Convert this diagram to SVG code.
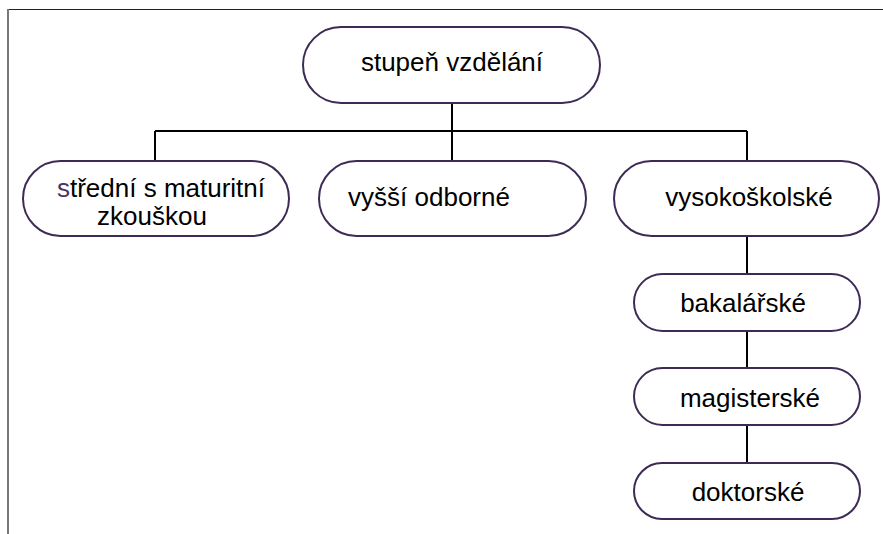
<svg xmlns="http://www.w3.org/2000/svg" width="883" height="534" viewBox="0 0 883 534">
<style>
.node rect{fill:#fff;stroke:#3d2b55;stroke-width:2}
.node text{font-family:"Liberation Sans",Arial,sans-serif;font-size:26px;fill:#000}
.conn{stroke:#000;stroke-width:2;fill:none}
</style>
<rect width="883" height="534" fill="#fff"/>
<g id="frame">
<line x1="8" y1="9.5" x2="883" y2="9.5" stroke="#222" stroke-width="1"/>
<line x1="8" y1="9" x2="8" y2="534" stroke="#777" stroke-width="2"/>
</g>
<g id="connectors" class="conn">
<path d="M452 103V131M155 131H747M155 131V161M452 131V161M747 131V161"/>
<path d="M747 236V274M747 331V368M747 425V463"/>
</g>
<g id="n-root" class="node">
<rect x="303" y="27" width="297" height="76" rx="38"/>
<text x="452" y="71" text-anchor="middle">stupeň vzdělání</text>
</g>
<g id="n-stredni" class="node">
<rect x="23" y="161" width="266" height="75" rx="37.5"/>
<text x="161" y="197" text-anchor="middle"><tspan fill="#4a3266">s</tspan>třední s maturitní</text>
<text x="152" y="225" text-anchor="middle">zkouškou</text>
</g>
<g id="n-vyssi" class="node">
<rect x="319" y="161" width="267" height="75" rx="37.5"/>
<text x="429" y="206" text-anchor="middle">vyšší odborné</text>
</g>
<g id="n-vysoko" class="node">
<rect x="614" y="161" width="265" height="75" rx="37.5"/>
<text x="749" y="206" text-anchor="middle">vysokoškolské</text>
</g>
<g id="n-bak" class="node">
<rect x="634" y="274" width="226" height="57" rx="28.5"/>
<text x="743" y="312" text-anchor="middle">bakalářské</text>
</g>
<g id="n-mag" class="node">
<rect x="634" y="368" width="226" height="57" rx="28.5"/>
<text x="750" y="407" text-anchor="middle">magisterské</text>
</g>
<g id="n-dok" class="node">
<rect x="634" y="463" width="226" height="56" rx="28"/>
<text x="748" y="501" text-anchor="middle">doktorské</text>
</g>
</svg>
